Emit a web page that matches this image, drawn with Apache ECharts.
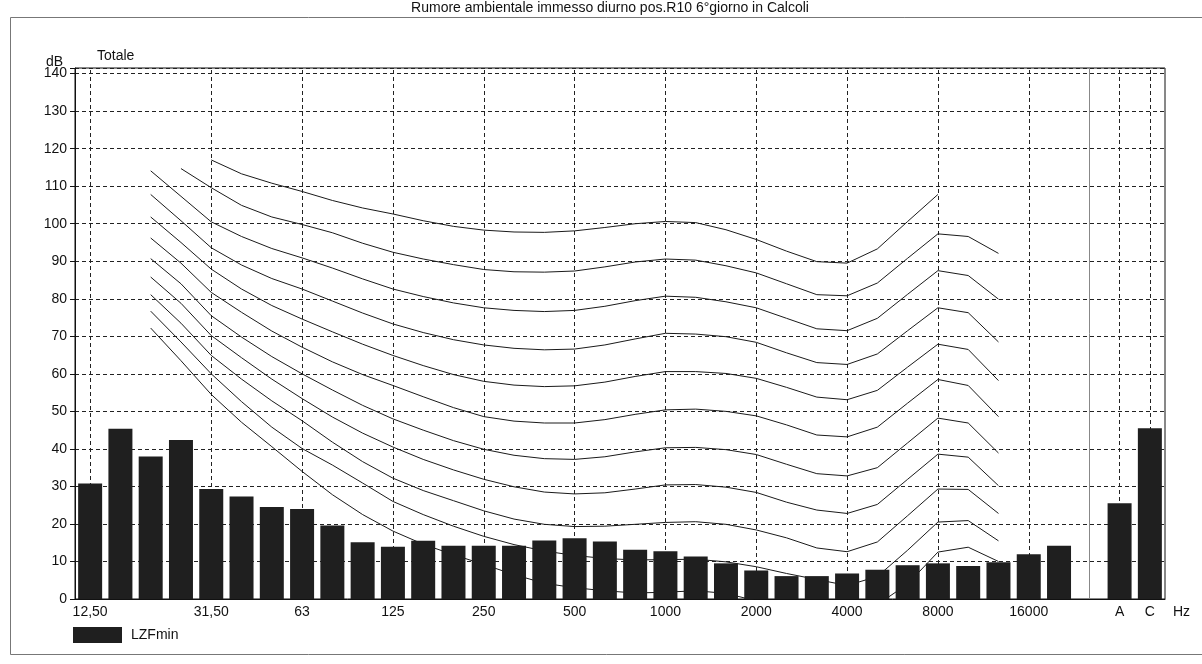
<!DOCTYPE html>
<html>
<head>
<meta charset="utf-8">
<script src="https://cdn.jsdelivr.net/npm/echarts@6/dist/echarts.min.js"></script>
<style>
html,body{margin:0;padding:0;background:#fff;}
#chart{width:1202px;height:664px;}
</style>
</head>
<body>
<div id="chart"></div>
<script>
// x categories (1/3 octave bands, gap, A, C)
const bands = ['12,50','16','20','25','31,50','40','50','63','80','100','125','160','200','250','315','400','500','630','800','1000','1250','1600','2000','2500','3150','4000','5000','6300','8000','10000','12500','16000','20000','','A','C'];
const labeledBands = ['12,50','31,50','63','125','250','500','1000','2000','4000','8000','16000','A','C'];
const yTicks = [0,10,20,30,40,50,60,70,80,90,100,110,120,130,140];

// LZFmin spectrum
const lzfmin = [30.8,45.4,38.0,42.4,29.3,27.3,24.5,24.0,19.6,15.1,13.9,15.5,14.2,14.2,14.2,15.6,16.2,15.3,13.1,12.7,11.3,9.5,7.6,6.1,6.1,6.8,7.8,9.0,9.5,8.8,9.8,11.9,14.2,null,25.5,45.5];

// Equal-loudness curves, bands 20 Hz ... 12500 Hz
const phon100 = [null,null,117.0,113.3,110.8,108.6,106.2,104.2,102.6,100.8,99.3,98.3,97.8,97.7,98.1,99.0,100.0,100.6,100.3,98.4,95.8,92.7,89.9,89.5,93.3,100.6,107.8,null,null];
const phon90 = [null,114.7,109.6,104.9,101.8,99.8,97.6,94.8,92.4,90.6,89.1,87.8,87.2,87.1,87.4,88.5,89.8,90.6,90.3,88.8,86.9,84.0,81.1,80.8,84.2,90.8,97.3,96.6,92.1];
const phon80 = [114.1,107.3,100.5,96.6,93.4,90.9,88.2,85.3,82.6,80.6,78.9,77.6,76.9,76.6,76.9,78.0,79.5,80.7,80.4,79.2,77.6,74.8,72.0,71.5,74.8,81.2,87.5,86.2,79.9];
const phon70 = [107.8,100.8,93.6,89.0,85.4,82.6,79.4,76.2,73.3,71.0,69.1,67.7,66.8,66.4,66.6,67.7,69.3,70.8,70.6,69.9,68.4,65.6,63.0,62.5,65.3,71.5,77.6,76.3,68.5];
const phon60 = [101.8,95.0,87.9,82.6,78.2,74.6,71.2,67.9,64.9,62.2,59.8,58.0,57.0,56.6,56.8,57.8,59.3,60.6,60.6,60.1,58.8,56.4,53.8,53.1,55.6,61.8,67.9,66.5,58.2];
const phon50 = [96.2,89.5,81.7,76.4,71.4,67.1,63.2,59.8,56.9,53.9,51.0,48.6,47.4,46.9,46.9,47.8,49.2,50.4,50.6,50.0,48.8,46.4,43.7,43.2,45.8,52.2,58.5,56.9,48.6];
const phon40 = [90.7,84.0,75.5,69.8,64.6,60.0,55.7,51.6,48.0,45.0,42.2,39.9,38.3,37.4,37.2,37.9,39.2,40.3,40.4,39.8,38.5,35.9,33.4,32.8,35.0,41.6,48.2,46.9,38.9];
const phon30 = [85.8,78.8,70.2,64.3,58.6,53.4,48.5,44.2,40.5,37.2,34.4,31.9,29.9,28.5,28.0,28.3,29.3,30.4,30.5,29.8,28.4,25.8,23.7,22.8,25.2,31.9,38.6,37.8,30.2];
const phon20 = [81.1,73.5,64.9,58.6,52.8,47.5,41.8,36.6,32.2,28.9,26.2,23.5,21.3,19.9,19.3,19.4,19.9,20.4,20.6,19.9,18.4,16.3,13.6,12.6,15.2,22.2,29.3,29.2,22.8];
const phon10 = [76.7,68.5,60.0,52.6,45.8,40.1,35.7,30.9,26.0,22.5,19.4,16.7,14.5,12.8,11.6,10.8,10.4,10.5,10.6,9.9,8.6,6.8,5.2,3.6,6.0,13.0,20.5,20.9,15.5];
const threshold = [72.2,63.5,54.5,47.1,40.6,34.0,27.8,22.5,18.1,14.6,11.8,9.2,6.5,4.2,3.0,2.2,1.6,1.8,2.2,1.5,-0.5,-2.5,-4.0,-4.0,-1.5,4.0,12.5,13.8,10.0];
const curves = [phon100,phon90,phon80,phon70,phon60,phon50,phon40,phon30,phon20,phon10,threshold];

const FONT = "'Liberation Sans', Arial, sans-serif";
const pad = v => [null, null].concat(v, [null, null, null, null, null]);

const curveSeries = curves.map((c, i) => ({
  type: 'line', name: 'c' + i, data: pad(c), symbol: 'none', silent: true,
  clip: true, connectNulls: false, z: 2,
  lineStyle: { color: '#1a1a1a', width: 1 }
}));

const gridMarks = labeledBands.map(b => ({ xAxis: bands.indexOf(b) }));

const chart = echarts.init(document.getElementById('chart'), null, { renderer: 'canvas' });
chart.setOption({
  animation: false,
  backgroundColor: '#ffffff',
  textStyle: { fontFamily: FONT },
  grid: { left: 75, right: 37, top: 68, bottom: 65, show: true, borderColor: '#111', borderWidth: 1, backgroundColor: 'transparent', containLabel: false, outerBoundsMode: 'none' },
  legend: {
    data: ['LZFmin'], left: 73, top: 627, padding: 0, icon: 'rect', itemWidth: 49, itemHeight: 16, itemGap: 6,
    textStyle: { fontFamily: FONT, fontSize: 14, color: '#111', padding: [0, 0, 0, 4] }
  },
  xAxis: {
    type: 'category', data: bands, boundaryGap: true,
    axisLine: { show: true, lineStyle: { color: '#111', width: 1 } },
    axisTick: { show: false },
    splitLine: { show: false },
    axisLabel: {
      interval: (idx, val) => labeledBands.indexOf(val) >= 0, margin: 6,
      fontFamily: FONT, fontSize: 14, color: '#111'
    }
  },
  yAxis: {
    type: 'value', min: 0, max: 141.5, interval: 10,
    axisLine: { show: true, lineStyle: { color: '#111', width: 1 } },
    axisTick: { show: true, length: 5, lineStyle: { color: '#111' } },
    axisLabel: {
      margin: 8, fontFamily: FONT, fontSize: 14, color: '#111',
      formatter: v => (yTicks.indexOf(v) >= 0 ? String(v) : '')
    },
    splitLine: { show: true, lineStyle: { color: '#222', width: 1, type: [4, 3] } }
  },
  graphic: [
    { type: 'rect', shape: { x: 10.5, y: 17.5, width: 1200, height: 637 }, style: { fill: 'none', stroke: '#777', lineWidth: 1 }, silent: true, z: 0 },
    { type: 'text', x: 610, y: 8, style: { text: 'Rumore ambientale immesso diurno pos.R10 6°giorno in Calcoli', font: '14px ' + FONT, fill: '#111', textAlign: 'center', textVerticalAlign: 'middle' } },
    { type: 'text', x: 46, y: 62, style: { text: 'dB', font: '14px ' + FONT, fill: '#111', textVerticalAlign: 'middle' } },
    { type: 'text', x: 97, y: 56, style: { text: 'Totale', font: '14px ' + FONT, fill: '#111', textVerticalAlign: 'middle' } },
    { type: 'text', x: 1173, y: 612, style: { text: 'Hz', font: '14px ' + FONT, fill: '#111', textVerticalAlign: 'middle' } }
  ],
  series: [
    {
      type: 'line', name: 'grid', data: bands.map(() => null), symbol: 'none', silent: true, z: 1,
      markLine: {
        silent: true, symbol: ['none', 'none'], z: 1, label: { show: false },
        lineStyle: { color: '#222', width: 1, type: [4, 3] },
        data: gridMarks.concat([{ xAxis: 33, lineStyle: { color: '#888', width: 1, type: 'solid' } }])
      }
    }
  ].concat(curveSeries, [
    {
      type: 'bar', name: 'LZFmin', data: lzfmin, barWidth: 24, z: 3, silent: true,
      itemStyle: { color: '#1f1f1f' }
    }
  ])
});
</script>
</body>
</html>
